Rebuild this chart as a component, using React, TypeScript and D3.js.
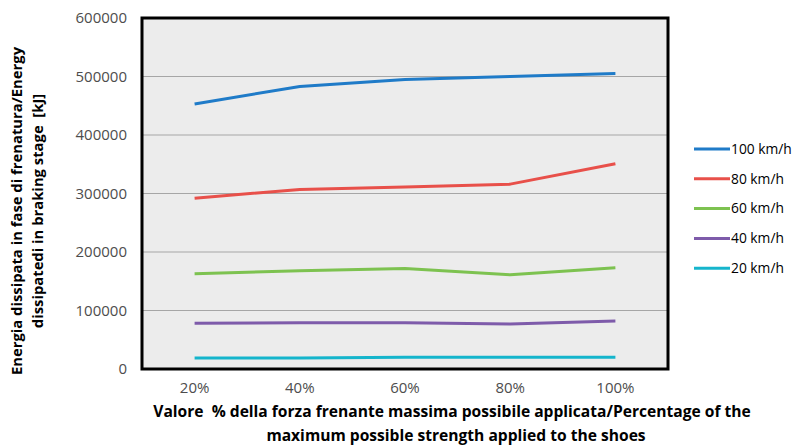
import React from "react";
import * as d3 from "d3";

const categories = ["20%", "40%", "60%", "80%", "100%"];
const seriesNames = ["100 km/h", "80 km/h", "60 km/h", "40 km/h", "20 km/h"];
const v100 = [453000, 483000, 495000, 500000, 505000];
const v80 = [292000, 307000, 311000, 316000, 351000];
const v60 = [163000, 168000, 172000, 161000, 173000];
const v40 = [78000, 79000, 79000, 77000, 82000];
const v20 = [19000, 19000, 20000, 20000, 20000];
const yTicks = [0, 100000, 200000, 300000, 400000, 500000, 600000];
const colors = ["#1F7BC8", "#E8504A", "#7DC250", "#7E5BAA", "#15B5CC"];

const seriesValues = [v100, v80, v60, v40, v20];

export default function App() {
  const W = 804, H = 448;
  const left = 142, right = 668, top = 18, bottom = 369;
  const x = d3.scalePoint<string>().domain(categories).range([left, right]).padding(0.5);
  const y = d3.scaleLinear().domain([0, 600000]).range([bottom, top]);
  const line = d3.line<number>().x((_, i) => x(categories[i]) as number).y(d => y(d));
  const font = "'Open Sans', 'DejaVu Sans', sans-serif";
  return (
    <svg width={W} height={H} style={{ position: "absolute", left: 0, top: 0, background: "#fff" }}>
      <rect x={left} y={top} width={right - left} height={bottom - top} fill="#ECECEC" />
      {yTicks.slice(1, -1).map(t => (
        <line key={t} x1={left} x2={right} y1={y(t)} y2={y(t)} stroke="#A6A6A6" strokeWidth={1} />
      ))}
      {seriesValues.map((vals, i) => (
        <path key={i} d={line(vals) || ""} fill="none" stroke={colors[i]} strokeWidth={3} strokeLinejoin="round" />
      ))}
      <rect x={left} y={top} width={right - left} height={bottom - top} fill="none" stroke="#000" strokeWidth={3} />
      {yTicks.map(t => (
        <text key={t} x={127} y={y(t)} dy="0.35em" textAnchor="end" fontFamily={font} fontSize={15} fill="#4D4D4D">{t}</text>
      ))}
      {categories.map(c => (
        <text key={c} x={x(c) as number} y={388} dy="0.35em" textAnchor="middle" fontFamily={font} fontSize={15} fill="#4D4D4D">{c}</text>
      ))}
      <text transform="translate(17,211) rotate(-90)" textAnchor="middle" dy="0.35em" fontFamily={font} fontSize={14.8} fontWeight="bold" fill="#000">Energia dissipata in fase di frenatura/Energy</text>
      <text transform="translate(38,211) rotate(-90)" textAnchor="middle" dy="0.35em" fontFamily={font} fontSize={14.8} fontWeight="bold" fill="#000" style={{ whiteSpace: "pre" }}>{"dissipatedi in braking stage  [kJ]"}</text>
      <text x={452} y={412} dy="0.35em" textAnchor="middle" fontFamily={font} fontSize={15.6} fontWeight="bold" fill="#000" style={{ whiteSpace: "pre" }}>{"Valore  % della forza frenante massima possibile applicata/Percentage of the"}</text>
      <text x={456} y={436} dy="0.35em" textAnchor="middle" fontFamily={font} fontSize={15.6} fontWeight="bold" fill="#000">maximum possible strength applied to the shoes</text>
      {seriesNames.map((n, i) => (
        <g key={n} transform={`translate(694,${149 + i * 29.8})`}>
          <line x1={0} x2={36} y1={0} y2={0} stroke={colors[i]} strokeWidth={3} />
          <text x={37} y={0} dy="0.35em" fontFamily={font} fontSize={13.8} fill="#000">{n}</text>
        </g>
      ))}
    </svg>
  );
}
